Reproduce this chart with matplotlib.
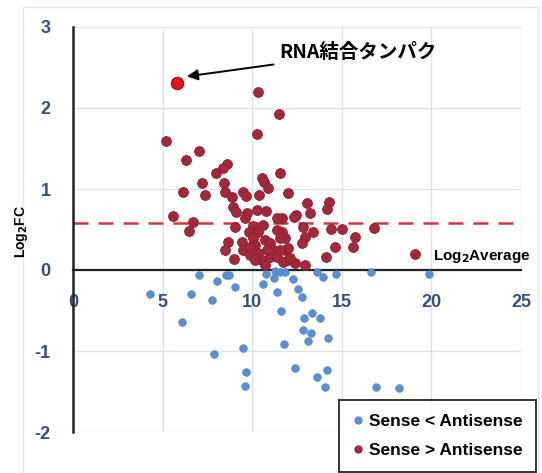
import matplotlib.pyplot as plt
from matplotlib.patches import Rectangle
from matplotlib.lines import Line2D

plt.rcParams["axes.unicode_minus"] = False

# Sense > Antisense (log2 average, log2 FC)
up_x = [10.34, 11.51, 10.28, 5.20, 7.04, 6.31, 8.60, 8.38, 7.99, 11.56,
        7.21, 7.37, 6.15, 8.44, 8.49, 8.88, 9.50, 9.66, 10.56, 10.67,
        10.89, 10.39, 12.01, 13.07, 13.24, 14.30, 14.19, 12.46, 12.85, 13.41,
        14.41, 15.03, 16.82, 15.75, 15.64, 14.64, 14.13, 19.11, 12.96, 12.79,
        11.84, 11.84, 12.01, 12.40, 12.96, 11.68, 11.68, 5.59, 6.70, 6.48,
        8.94, 9.11, 9.72, 10.28, 10.78, 11.40, 12.35, 9.61, 9.05, 10.06,
        10.61, 9.83, 10.34, 11.40, 8.66, 8.49, 9.44, 9.50, 10.06, 10.17,
        10.73, 11.01, 11.56, 12.01, 8.99, 9.89, 10.34, 10.56, 11.01, 11.17,
        11.40, 11.73, 12.12, 10.73, 10.17, 9.89, 10.84, 11.56]
up_y = [2.20, 1.93, 1.68, 1.59, 1.47, 1.36, 1.31, 1.26, 1.20, 1.20,
        1.07, 0.93, 0.96, 1.07, 0.96, 0.90, 0.96, 0.91, 1.14, 1.09,
        1.01, 0.93, 0.95, 0.83, 0.70, 0.84, 0.75, 0.68, 0.53, 0.47,
        0.51, 0.51, 0.52, 0.41, 0.28, 0.28, 0.16, 0.20, 0.41, 0.33,
        0.40, 0.25, 0.12, 0.09, 0.06, 0.64, 0.47, 0.67, 0.59, 0.48,
        0.78, 0.72, 0.70, 0.74, 0.73, 0.64, 0.65, 0.64, 0.53, 0.54,
        0.56, 0.47, 0.47, 0.49, 0.35, 0.25, 0.35, 0.25, 0.40, 0.31,
        0.37, 0.33, 0.40, 0.27, 0.14, 0.19, 0.21, 0.12, 0.16, 0.25,
        0.16, 0.10, 0.15, 0.06, 0.12, 0.28, 0.25, 0.25]

# Sense < Antisense
down_x = [7.04, 8.04, 8.55, 8.72, 9.05, 4.30, 6.59, 7.77, 6.09, 7.88,
          9.50, 9.66, 9.61, 10.78, 10.61, 11.28, 11.56, 11.84, 11.23, 12.29,
          11.40, 12.57, 12.79, 11.62, 11.79, 13.63, 13.97, 14.69, 16.65, 19.89,
          12.91, 13.35, 13.80, 12.85, 13.30, 13.13, 14.25, 12.40, 14.19, 13.63,
          14.08, 16.93, 18.21]
down_y = [-0.06, -0.14, -0.06, -0.06, -0.21, -0.30, -0.30, -0.37, -0.64, -1.04,
          -0.96, -1.26, -1.43, -0.05, -0.17, -0.01, -0.02, -0.02, -0.10, -0.11,
          -0.27, -0.23, -0.33, -0.51, -0.91, -0.03, -0.09, -0.05, -0.02, -0.05,
          -0.59, -0.53, -0.59, -0.74, -0.78, -0.88, -0.84, -1.21, -1.23, -1.32,
          -1.44, -1.44, -1.46]

# RNA binding protein
hit_x, hit_y = 5.81, 2.31
threshold = 0.585

x_ticks = [0, 5, 10, 15, 20, 25]
y_ticks = [-2, -1, 0, 1, 2, 3]

red = "#a3283a"
blue = "#5b8fd4"
tick_color = "#34507f"
grid_color = "#dde4ee"

fig = plt.figure(figsize=(5.42, 4.73), dpi=100)
ax = fig.add_axes([73 / 542, 1 - 432 / 473, 448 / 542, 405 / 473])

fig.patches.append(Rectangle((23 / 542, -0.1), 515 / 542, 1.1 - 7 / 473,
                             transform=fig.transFigure, fill=False,
                             edgecolor="#e3e8f0", lw=1))

ax.set_xlim(0, 25)
ax.set_ylim(-2, 3)
ax.set_xticks(x_ticks)
ax.set_yticks(y_ticks)
ax.grid(True, color=grid_color, lw=1)
ax.set_axisbelow(True)

for s in ["top", "right"]:
    ax.spines[s].set_visible(False)
ax.spines["bottom"].set_position(("data", 0))
ax.spines["bottom"].set_linewidth(1.6)
ax.spines["left"].set_linewidth(1.8)
ax.spines["left"].set_color("#222222")
ax.spines["bottom"].set_color("#222222")

ax.tick_params(axis="x", length=0, pad=17, labelsize=13, labelcolor=tick_color)
ax.tick_params(axis="y", length=0, pad=16, labelsize=13, labelcolor=tick_color)
for lab in ax.get_xticklabels() + ax.get_yticklabels():
    lab.set_fontweight("bold")
    lab.set_family("Liberation Sans")

ax.axhline(threshold, color="#d8343f", lw=1.8, dashes=(6, 4), zorder=2)

ax.scatter(down_x, down_y, s=30, color=blue, edgecolor="#4f80c4", lw=0.5, zorder=3)
ax.scatter(up_x, up_y, s=50, color=red, edgecolor="#8a1f2e", lw=0.6, zorder=3)
ax.scatter([hit_x], [hit_y], s=80, color="#e5131c", edgecolor="#a01018", lw=0.8, zorder=4)

ax.annotate("RNA結合タンパク", xy=(hit_x + 0.55, hit_y + 0.08), xytext=(11.5, 2.68),
            fontsize=14, fontweight="bold", va="center", ha="left",
            family=["Noto Sans CJK JP", "DejaVu Sans"],
            arrowprops=dict(arrowstyle="-|>", color="black", lw=1.4,
                            mutation_scale=16, shrinkA=2, shrinkB=0))

ax.text(20.1, 0.17, r"Log$_\mathbf{2}$Average", fontsize=11, fontweight="bold",
        va="center", ha="left", family="Liberation Sans")

fig.text(22 / 542, 1 - 232 / 473, r"Log$_\mathbf{2}$FC", rotation=90, fontsize=10,
         fontweight="bold", va="center", ha="center", family="Liberation Sans")

handles = [
    Line2D([], [], ls="none", marker="o", ms=5, color=blue),
    Line2D([], [], ls="none", marker="o", ms=5, color=red),
]
leg = fig.legend(handles, ["Sense < Antisense", "Sense > Antisense"],
                 loc="upper left", bbox_to_anchor=(339 / 542, 1 - 400 / 473),
                 frameon=True, fancybox=False, edgecolor="black",
                 prop={"family": "Liberation Sans", "weight": "bold", "size": 12.5},
                 handlelength=0.6, handletextpad=0.3, borderpad=0.8,
                 labelspacing=0.8, borderaxespad=0)
leg.get_frame().set_linewidth(1.4)

fig.savefig("out.png", dpi=100)
